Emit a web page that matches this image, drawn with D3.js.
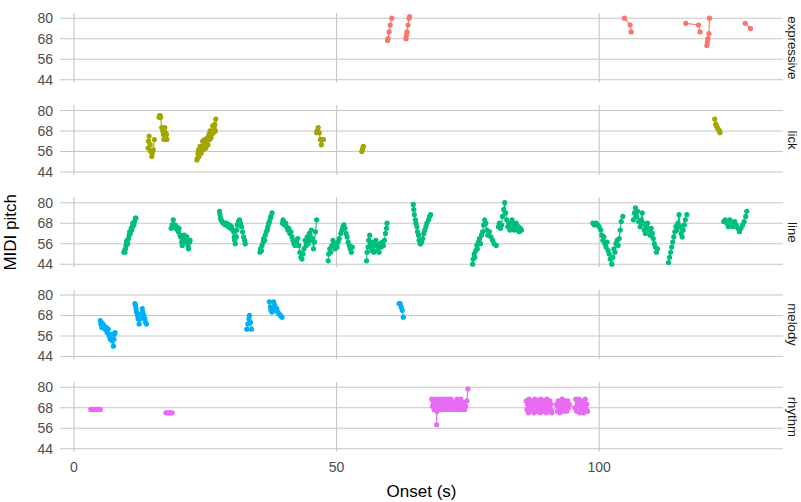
<!DOCTYPE html>
<html>
<head>
<meta charset="utf-8">
<script src="https://cdn.jsdelivr.net/npm/d3@7"></script>
<style>
  body { margin: 0; background: #fff; }
  svg { font-family: "Liberation Sans", Arial, sans-serif; }
</style>
</head>
<body>
<div id="chart"></div>
<script>
// facets, top to bottom
const categories = ["expressive", "lick", "line", "melody", "rhythm"];
const xTicks = [0, 50, 100];
const yTicks = [44, 56, 68, 80];

// each phrase is a list of [onset (s), MIDI pitch]
const expressivePhrases = [
  [[59.7, 67], [59.8, 68], [60.0, 72], [60.2, 76], [60.5, 80]],
  [[63.2, 68], [63.3, 70], [63.4, 72], [63.6, 76], [63.8, 80], [63.9, 81]],
  [[104.8, 80], [105.9, 76], [106.1, 72]],
  [[116.5, 77], [118.9, 76], [119.2, 72]],
  [[120.5, 64], [120.6, 66], [120.7, 68], [120.9, 71], [121.0, 80]],
  [[127.8, 77], [128.8, 74]]
];

const lickPhrases = [
  [[14.1, 58], [14.2, 62], [14.3, 65], [14.5, 60], [14.6, 56], [14.8, 53], [14.9, 55], [15.1, 57], [15.3, 63]],
  [[16.2, 76], [16.3, 77], [16.4, 77], [16.5, 76], [16.7, 70], [16.9, 68], [17.0, 66], [17.1, 63], [17.3, 70], [17.4, 67], [17.6, 66], [17.7, 63]],
  [[23.4, 51], [23.5, 52], [23.6, 55], [23.7, 57], [23.8, 53], [23.9, 56], [24.0, 59], [24.2, 55], [24.3, 59], [24.5, 62],
   [24.6, 57], [24.8, 60], [24.9, 63], [25.1, 58], [25.2, 62], [25.4, 64], [25.5, 60], [25.7, 66], [25.8, 63], [25.9, 68],
   [26.1, 64], [26.2, 66], [26.4, 71], [26.5, 67], [26.7, 70], [26.8, 72], [26.9, 68], [27.0, 75]],
  [[46.2, 67], [46.3, 68], [46.5, 70], [46.7, 67], [46.9, 63], [47.1, 60], [47.3, 63], [47.5, 63]],
  [[54.8, 56], [54.9, 57], [55.0, 58], [55.1, 59]],
  [[122.0, 75], [122.2, 72], [122.3, 71], [122.5, 70], [122.7, 69], [122.9, 68], [123.0, 67]]
];

const linePhrases = [
  [[9.5, 51], [9.6, 52], [9.7, 51], [9.8, 53], [9.9, 55], [10.0, 57], [10.1, 58], [10.2, 56], [10.4, 59], [10.5, 61],
   [10.6, 63], [10.7, 62], [10.9, 65], [11.0, 64], [11.1, 66], [11.2, 68], [11.4, 67], [11.5, 69], [11.7, 71], [11.8, 71]],
  [[18.5, 65], [18.7, 67], [18.9, 70], [19.0, 66], [19.2, 67], [19.4, 65], [19.5, 66], [19.7, 64], [19.9, 63], [20.0, 65],
   [20.2, 61], [20.3, 60], [20.5, 57], [20.6, 55], [20.8, 59], [21.0, 61], [21.1, 58], [21.3, 57], [21.5, 60], [21.7, 55],
   [21.8, 53], [22.0, 57], [22.1, 58]],
  [[27.7, 75], [27.8, 73], [27.9, 71], [28.0, 70], [28.2, 69], [28.4, 68], [28.6, 68], [28.8, 67], [29.0, 68], [29.2, 67],
   [29.4, 66], [29.6, 67], [29.8, 65], [30.0, 66], [30.2, 64], [30.4, 63], [30.5, 60], [30.6, 58], [30.7, 56], [30.9, 60],
   [31.0, 64], [31.1, 67], [31.3, 69], [31.5, 70], [31.7, 68], [31.9, 66], [32.1, 63], [32.3, 60], [32.5, 58], [32.6, 56]],
  [[35.4, 51], [35.5, 53], [35.7, 52], [35.8, 55], [36.0, 57], [36.1, 59], [36.3, 58], [36.4, 61], [36.6, 63], [36.8, 64],
   [36.9, 66], [37.1, 68], [37.2, 69], [37.4, 71], [37.5, 72], [37.7, 74]],
  [[39.7, 68], [39.8, 70], [39.9, 69], [40.1, 67], [40.3, 68], [40.5, 66], [40.7, 64], [40.9, 65], [41.1, 62], [41.3, 63],
   [41.5, 60], [41.7, 58], [41.9, 56], [42.1, 55], [42.3, 57], [42.6, 59], [42.8, 55], [43.0, 51], [43.2, 48], [43.4, 47],
   [43.6, 50], [43.8, 53], [44.0, 58], [44.2, 55], [44.4, 60], [44.6, 56], [44.8, 62], [45.0, 58], [45.2, 64], [45.4, 59],
   [45.6, 53], [45.8, 57], [46.0, 63], [46.2, 70]],
  [[48.4, 46], [48.5, 50], [48.7, 53], [48.9, 51], [49.1, 55], [49.3, 58], [49.5, 55], [49.7, 53], [49.9, 56], [50.1, 54],
   [50.3, 57], [50.5, 59], [50.8, 62], [51.0, 64], [51.2, 66], [51.4, 67], [51.6, 65], [51.8, 62], [52.0, 60], [52.2, 57],
   [52.4, 55], [52.6, 53], [52.8, 51], [53.0, 54]],
  [[55.7, 46], [55.8, 51], [56.0, 54], [56.1, 58], [56.3, 61], [56.5, 55], [56.7, 52], [56.9, 57], [57.1, 51], [57.3, 55],
   [57.5, 58], [57.7, 52], [57.9, 55], [58.1, 51], [58.3, 56], [58.5, 54], [58.7, 57], [58.9, 55], [59.1, 58], [59.3, 62],
   [59.5, 65], [59.6, 68]],
  [[64.6, 79], [64.7, 76], [64.8, 73], [65.0, 70], [65.1, 68], [65.3, 66], [65.4, 63], [65.6, 61], [65.7, 58], [65.9, 56],
   [66.0, 56], [66.2, 57], [66.4, 59], [66.6, 62], [66.8, 64], [67.0, 66], [67.2, 68], [67.5, 70], [67.7, 72], [67.9, 73]],
  [[75.9, 44], [76.0, 47], [76.2, 50], [76.3, 48], [76.5, 52], [76.7, 55], [76.8, 53], [77.0, 57], [77.2, 59], [77.4, 56],
   [77.6, 61], [77.8, 63], [78.0, 67], [78.2, 70], [78.4, 68], [78.6, 64], [78.8, 61], [79.1, 63], [79.4, 60], [79.7, 58],
   [80.0, 56], [80.4, 55]],
  [[80.8, 66], [81.0, 68], [81.2, 65], [81.4, 67], [81.6, 72], [81.8, 76], [82.0, 80], [82.2, 74], [82.4, 70], [82.6, 66],
   [82.8, 68], [83.0, 64], [83.2, 66], [83.4, 70], [83.6, 68], [83.8, 64], [84.0, 66], [84.2, 68], [84.4, 64], [84.6, 66],
   [84.8, 63], [85.0, 65], [85.2, 64]],
  [[98.8, 68], [99.1, 67], [99.4, 68], [99.7, 67], [100.0, 66], [100.3, 64], [100.5, 61], [100.7, 58], [100.9, 60], [101.1, 56],
   [101.3, 54], [101.5, 57], [101.7, 52], [101.9, 50], [102.1, 47], [102.4, 44], [102.6, 48], [102.8, 53], [103.0, 51], [103.2, 56],
   [103.4, 58], [103.6, 55], [103.8, 59], [104.0, 64], [104.2, 69], [104.5, 72]],
  [[106.5, 70], [106.7, 74], [106.9, 77], [107.1, 72], [107.3, 75], [107.5, 69], [107.8, 66], [108.0, 70], [108.2, 74], [108.4, 68],
   [108.6, 64], [108.8, 62], [109.0, 66], [109.2, 68], [109.4, 64], [109.7, 61], [109.9, 65], [110.1, 62], [110.3, 59], [110.5, 56],
   [110.7, 54], [110.9, 51], [111.1, 53]],
  [[113.2, 45], [113.4, 48], [113.6, 51], [113.8, 54], [114.0, 57], [114.2, 60], [114.4, 63], [114.6, 66], [114.8, 64], [115.0, 68],
   [115.2, 73], [115.4, 66], [115.6, 62], [115.8, 60], [116.0, 64], [116.2, 67], [116.4, 70], [116.7, 73]],
  [[123.7, 69], [124.0, 70], [124.3, 68], [124.6, 66], [124.9, 70], [125.2, 68], [125.5, 66], [125.8, 69], [126.1, 67], [126.4, 65],
   [126.7, 63], [127.0, 65], [127.3, 67], [127.6, 69], [127.9, 72], [128.1, 75]]
];

const melodyPhrases = [
  [[5.0, 65], [5.1, 63], [5.2, 64], [5.3, 61], [5.5, 63], [5.7, 62], [5.9, 60], [6.1, 61], [6.3, 58], [6.5, 60],
   [6.7, 56], [6.9, 54], [7.1, 57], [7.3, 53], [7.5, 50], [7.6, 54], [7.7, 57], [7.8, 58]],
  [[11.6, 75], [11.7, 74], [11.8, 72], [11.9, 70], [12.1, 68], [12.2, 66], [12.4, 63], [12.6, 66], [12.8, 69], [12.9, 67],
   [13.0, 72], [13.1, 70], [13.3, 68], [13.5, 66], [13.6, 64], [13.8, 63]],
  [[32.9, 60], [33.1, 63], [33.3, 66], [33.4, 68], [33.6, 64], [33.8, 60]],
  [[37.2, 76], [37.4, 73], [37.5, 71], [37.7, 70], [37.9, 72], [38.0, 76], [38.2, 74], [38.4, 71], [38.6, 72], [38.8, 70],
   [39.0, 69], [39.3, 68], [39.6, 67]],
  [[61.9, 75], [62.1, 75], [62.3, 73], [62.5, 71], [62.7, 67]]
];

const rhythmPhrases = [
  [[3.2, 67], [3.4, 67], [3.6, 67], [3.8, 67], [4.0, 67], [4.2, 67], [4.4, 67], [4.6, 67], [4.8, 67], [5.0, 67]],
  [[17.5, 65], [17.8, 65], [18.1, 65], [18.4, 65], [18.7, 65]],
  [[68.1, 73], [68.25, 69], [68.4, 71], [68.55, 67], [68.7, 73], [68.85, 69], [69.0, 67], [69.05, 58], [69.1, 66], [69.25, 71],
   [69.4, 73], [69.55, 69], [69.7, 71], [69.85, 67], [70.0, 73], [70.15, 69], [70.3, 71], [70.45, 67], [70.6, 73], [70.75, 69],
   [70.9, 71], [71.05, 67], [71.2, 73], [71.35, 69], [71.5, 71], [71.65, 67], [71.8, 73], [71.95, 69], [72.1, 71], [72.3, 67],
   [72.6, 71], [72.75, 67], [72.9, 73], [73.05, 69], [73.2, 71], [73.35, 67], [73.5, 69], [73.65, 73], [73.8, 71], [73.95, 67],
   [74.1, 69], [74.25, 71], [74.4, 67], [74.6, 69], [74.8, 72], [75.0, 79]],
  [[86.1, 72], [86.24, 67], [86.38, 70], [86.52, 65], [86.66, 73], [86.8, 68], [86.94, 71], [87.08, 66], [87.22, 72], [87.36, 67],
   [87.5, 70], [87.64, 65], [87.78, 73], [87.92, 68], [88.06, 71], [88.2, 66], [88.34, 72], [88.48, 67], [88.62, 70], [88.76, 65],
   [88.9, 73], [89.04, 68], [89.18, 71], [89.32, 66], [89.46, 72], [89.6, 67], [89.74, 70], [89.88, 65], [90.02, 73], [90.16, 68],
   [90.3, 71], [90.44, 66], [90.58, 72], [90.72, 67], [90.86, 70], [91.0, 65],
   [91.9, 70], [92.05, 66], [92.2, 72], [92.35, 68], [92.5, 65], [92.65, 71], [92.8, 67], [92.95, 73], [93.1, 69], [93.25, 66],
   [93.4, 72], [93.55, 68], [93.7, 70], [93.85, 66], [94.0, 72], [94.15, 68], [94.3, 70],
   [95.4, 68], [95.55, 73], [95.7, 66], [95.85, 71], [96.0, 69], [96.15, 73], [96.3, 65], [96.45, 70], [96.6, 67], [96.75, 72],
   [96.9, 68], [97.05, 65], [97.2, 71], [97.35, 73], [97.5, 67], [97.65, 70], [97.8, 66]]
];

const phrasesByCategory = [expressivePhrases, lickPhrases, linePhrases, melodyPhrases, rhythmPhrases];
const colors = ["#F8766D", "#A3A500", "#00BF7D", "#00B0F6", "#E76BF3"];

const width = 801, height = 502;
const panel = { left: 60, right: 783, top: 13.1, height: 69.5, step: 92.25 };

const x = d3.scaleLinear().domain([-2.67, 135]).range([panel.left, panel.right]);
const y = d3.scaleLinear().domain([42.3, 83.0]).range([panel.height, 0]);

const svg = d3.select("#chart").append("svg")
  .attr("width", width)
  .attr("height", height);

const line = d3.line()
  .x(d => x(d[0]))
  .y(d => y(d[1]));

categories.forEach((cat, i) => {
  const g = svg.append("g")
    .attr("transform", `translate(0,${panel.top + i * panel.step})`);

  // grid
  g.selectAll(".hgrid")
    .data(yTicks)
    .join("line")
    .attr("x1", panel.left)
    .attr("x2", panel.right)
    .attr("y1", d => y(d))
    .attr("y2", d => y(d))
    .attr("stroke", "#c6c6c6")
    .attr("stroke-width", 1.1);

  g.selectAll(".vgrid")
    .data(xTicks)
    .join("line")
    .attr("x1", d => x(d))
    .attr("x2", d => x(d))
    .attr("y1", 0)
    .attr("y2", panel.height)
    .attr("stroke", "#c6c6c6")
    .attr("stroke-width", 1.1);

  // y tick labels
  g.selectAll(".ylab")
    .data(yTicks)
    .join("text")
    .attr("x", panel.left - 7)
    .attr("y", d => y(d))
    .attr("dy", "0.36em")
    .attr("text-anchor", "end")
    .style("font-size", "14px")
    .style("fill", "#4d4d4d")
    .text(d => d);

  // phrases
  const phrases = phrasesByCategory[i];
  g.selectAll("path.phrase")
    .data(phrases)
    .join("path")
    .attr("class", "phrase")
    .attr("d", line)
    .attr("fill", "none")
    .attr("stroke", colors[i])
    .attr("stroke-width", 1.1);

  g.selectAll("circle")
    .data(phrases.flat())
    .join("circle")
    .attr("cx", d => x(d[0]))
    .attr("cy", d => y(d[1]))
    .attr("r", 2.6)
    .attr("fill", colors[i]);

  // strip label
  g.append("text")
    .attr("transform", `translate(788,${panel.height / 2}) rotate(90)`)
    .attr("text-anchor", "middle")
    .style("font-size", "13.2px")
    .style("fill", "#1a1a1a")
    .text(cat);
});

// x tick labels
const bottom = panel.top + 4 * panel.step + panel.height;
svg.selectAll(".xlab")
  .data(xTicks)
  .join("text")
  .attr("x", d => x(d))
  .attr("y", bottom + 20)
  .attr("text-anchor", "middle")
  .style("font-size", "14px")
  .style("fill", "#4d4d4d")
  .text(d => d);

// axis titles
svg.append("text")
  .attr("x", (panel.left + panel.right) / 2)
  .attr("y", 497)
  .attr("text-anchor", "middle")
  .style("font-size", "17px")
  .style("fill", "#000")
  .text("Onset (s)");

svg.append("text")
  .attr("transform", `translate(16,${(panel.top + bottom) / 2}) rotate(-90)`)
  .attr("text-anchor", "middle")
  .style("font-size", "17px")
  .style("fill", "#000")
  .text("MIDI pitch");
</script>
</body>
</html>
